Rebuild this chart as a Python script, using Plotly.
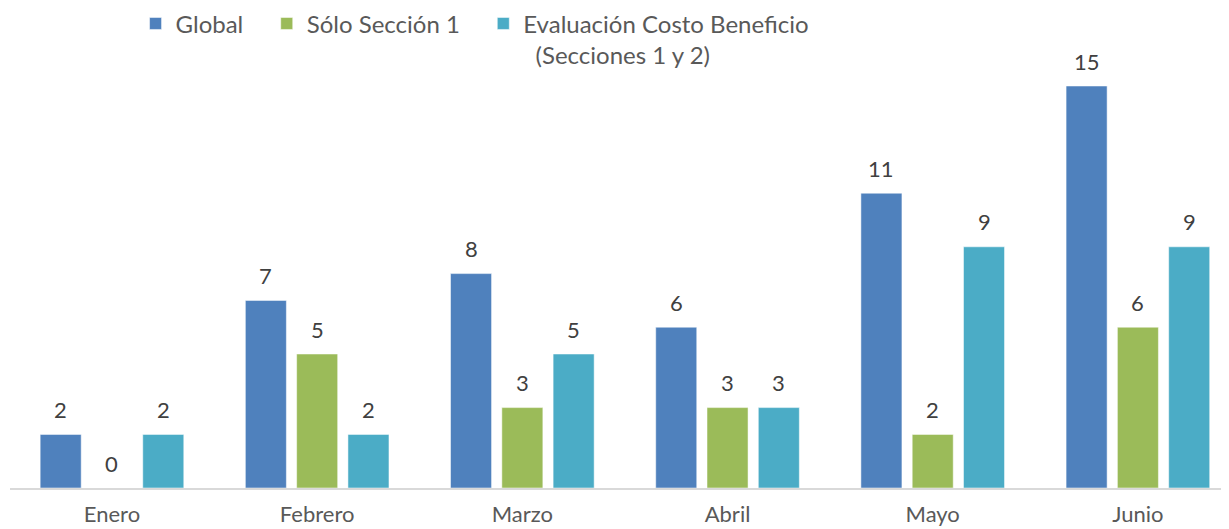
import plotly.graph_objects as go

meses = ["Enero", "Febrero", "Marzo", "Abril", "Mayo", "Junio"]
global_vals = [2, 7, 8, 6, 11, 15]
solo_seccion1 = [0, 5, 3, 3, 2, 6]
costo_beneficio = [2, 2, 5, 3, 9, 9]

PAD = "\u00a0" * 3  # widen legend entries a little
series = [
    ("Global" + PAD, global_vals, "#4F81BD"),
    ("Sólo Sección 1" + PAD, solo_seccion1, "#9BBB59"),
    ("Evaluación Costo Beneficio<br>  (Secciones 1 y 2)", costo_beneficio, "#4BACC6"),
]

FONT = "Lato"
TXT = "#595959"

fig = go.Figure()
for name, vals, color in series:
    fig.add_trace(go.Bar(x=meses, y=vals, name=name, marker_color=color,
                         marker_line_width=1, marker_line_color="rgba(255,255,255,0.5)"))

# data labels above the bars
slot = 51.3
for i, (name, vals, color) in enumerate(series):
    for m, v in zip(meses, vals):
        fig.add_annotation(x=m, y=v, text=str(v), showarrow=False,
                           xshift=(i - 1) * slot, yshift=25,
                           font=dict(family=FONT, size=22, color="#404040"))

# the page body adds 8px, so the figure is 8px smaller than the window
fig.update_layout(
    width=1221, height=521,
    margin=dict(l=2, r=0, t=40, b=41, autoexpand=False),
    plot_bgcolor="white", paper_bgcolor="white",
    barmode="group", bargap=0.25, bargroupgap=0.2,
    font=dict(family=FONT, size=22, color=TXT),
    legend=dict(orientation="h", x=0.103, xanchor="left", y=1.106, yanchor="top",
                font=dict(size=24, color=TXT), valign="top"),
    showlegend=True,
)
fig.update_xaxes(range=[-0.497, 5.444], showline=True, linecolor="#D9D9D9", linewidth=2,
                 ticks="", showgrid=False, ticklabelstandoff=6,
                 tickfont=dict(size=22, color=TXT))
fig.update_yaxes(visible=False, range=[0, 440 / 26.8])

fig.write_html("out.html")
